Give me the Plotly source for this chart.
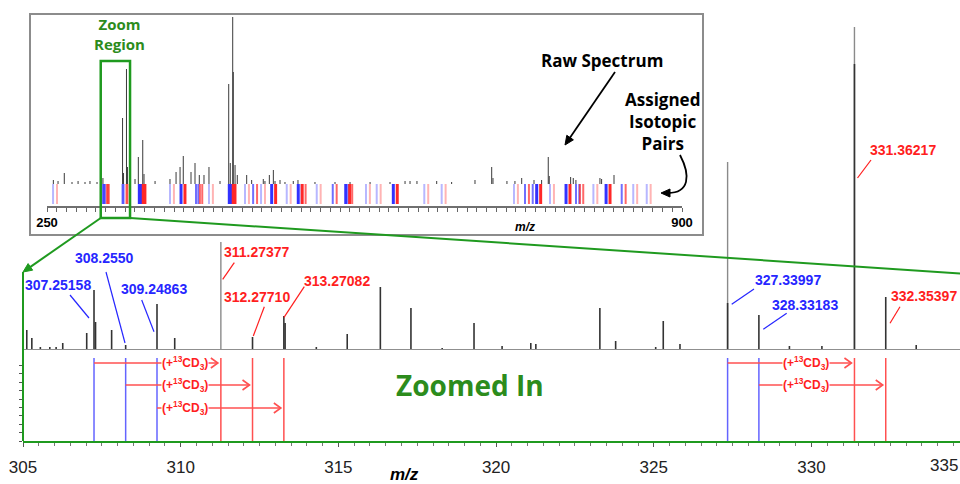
import math
import plotly.graph_objects as go

W, H = 960, 484

# ============================ DATA ============================
# Zoomed spectrum, m/z 305-335: peak centroids and relative intensities
main_mz = [305.12, 305.28, 305.55, 305.85, 306.05, 306.26, 307.02, 307.25158, 307.30,
           307.81, 308.2550, 309.24863, 309.81, 312.27710, 313.27082, 313.31, 314.30,
           315.28, 316.33, 317.30, 318.29, 319.30, 320.19, 321.10, 321.26, 323.29,
           323.79, 325.06, 325.30, 325.83, 327.33997, 328.33183, 329.30, 330.33,
           331.36217, 332.35397, 333.32]
main_int = [19, 11, 2, 2, 2, 6, 16, 59, 27,
            19, 4, 45, 11, 12, 33, 26, 2,
            15, 62, 41, 1, 26, 3, 6, 5, 41,
            8, 2, 28, 5, 46, 34, 3, 3,
            285, 52, 4]
# lighter overlay trace of the dominant ions
tall_mz = [311.27377, 327.33997, 331.36217]
tall_int = [107, 187, 322]

# assigned isotopic pairs (light / +13CD3 heavy)
light_mz = [307.25158, 308.2550, 309.24863, 327.33997, 328.33183]
heavy_mz = [311.27377, 312.27710, 313.27082, 331.36217, 332.35397]
light_labels = ["307.25158", "308.2550", "309.24863", "327.33997", "328.33183"]
heavy_labels = ["311.27377", "312.27710", "313.27082", "331.36217", "332.35397"]
pair_label = "(+<sup>13</sup>CD<sub>3</sub>)"
CD3_SHIFT = 4.0222

# Raw full spectrum (inset, m/z 250-900)
inset_mz = [256.5, 261.3, 267.7, 275.6, 281.8, 288.9, 294.0, 301.2, 305.12, 307.25,
            327.34, 328.33, 331.36, 332.35, 340.1, 343.5, 348.0, 349.3, 360.6, 375.9,
            382.1, 386.2, 389.5, 397.4, 401.5, 405.9, 410.7, 415.8, 427.1, 436.0,
            437.6, 440.1, 440.7, 442.5, 444.8, 454.4, 459.5, 471.4, 473.1, 477.6,
            481.7, 483.4, 488.5, 493.6, 502.1, 506.9, 524.3, 544.8, 560.2, 580.7,
            601.1, 616.5, 621.6, 628.7, 648.9, 664.2, 688.1, 705.2, 706.5, 720.8,
            729.0, 735.9, 748.5, 756.3, 763.1, 764.1, 786.0, 788.7, 791.4, 816.0,
            817.7, 830.4]
inset_int = [4, 3, 11, 2, 3, 2, 3, 2, 4, 6,
             66, 11, 115, 17, 5, 27, 44, 10, 3, 5,
             12, 17, 28, 12, 21, 9, 9, 17, 3, 100,
             21, 167, 112, 19, 9, 9, 4, 5, 3, 9,
             14, 3, 4, 2, 3, 4, 2, 2, 2, 2,
             2, 3, 3, 3, 3, 2, 4, 17, 6, 3,
             3, 6, 4, 4, 27, 8, 7, 6, 4, 6,
             5, 9]
# assigned pairs in the inset: light partner m/z and signal level (1 weak .. 3 strong)
inset_pair_mz = [256.2, 307.25, 308.26, 309.25, 327.34, 328.33, 344.5, 346.2, 375.9, 387.2,
                 402.5, 404.9, 415.8, 436.6, 438.4, 452.7, 461.0, 469.1, 480.0, 495.4,
                 507.2, 510.7, 526.1, 542.5, 555.8, 558.4, 576.5, 587.5, 604.5, 636.2,
                 654.0, 728.0, 739.3, 747.2, 751.3, 764.9, 781.3, 791.5, 794.9, 809.3,
                 822.3, 838.3, 850.1, 863.9]
inset_pair_level = [1, 2, 2, 2, 2, 2, 3, 3, 1, 3,
                    2, 2, 1, 3, 3, 1, 2, 1, 3, 1,
                    3, 2, 1, 2, 3, 2, 1, 1, 3, 1,
                    1, 1, 2, 2, 3, 1, 3, 2, 2, 1,
                    3, 2, 1, 1]

main_ticks = [305, 310, 315, 320, 325, 330, 335]
inset_ticks = [250, 900]

# ============================ STYLE / LAYOUT ============================
GREEN = "#1f9a1f"
GREEN_TXT = "#2c8c1c"
BLUE_TXT = "#2626ff"
RED_TXT = "#ff1e1e"
BLUE_LINE = "#6464ff"
RED_LINE = "#ff5050"
ARIAL = "Liberation Sans, Arial"
SANS = "Open Sans, Liberation Sans, Arial"


def PX(x):
    return x / W


def PY(y):
    return 1 - y / H


MAIN_L = 23.0          # pixel of m/z 305
PX_PER_MZ = 31.54
MAIN_RANGE = [305, 305 + (W - MAIN_L) / PX_PER_MZ]
UP_BASE = 349.0        # baseline of the spectrum (px)
LOW_BOT = 441.0        # bottom axis (px)
LOW_UNIT = 8.4         # px per lower-panel unit
LOW_RANGE = [0, (LOW_BOT - UP_BASE) / LOW_UNIT]
IN_L, IN_R = 47.0, 682.0
IN_RANGE = [250, 900]
IN_BASE = 184.0
IN_Y_RANGE = [-38, 170]


def main_px(mz):
    return MAIN_L + (mz - MAIN_RANGE[0]) * PX_PER_MZ


def inset_px(mz):
    return IN_L + (mz - IN_RANGE[0]) * (IN_R - IN_L) / (IN_RANGE[1] - IN_RANGE[0])


def stems(xs, y0s, y1s):
    X, Y = [], []
    for x, a, b in zip(xs, y0s, y1s):
        X += [x, x, None]
        Y += [a, b, None]
    return X, Y


def seg(p0, p1, color, width):
    return dict(type="line", xref="paper", yref="paper", x0=PX(p0[0]), y0=PY(p0[1]),
                x1=PX(p1[0]), y1=PY(p1[1]), line=dict(color=color, width=width))


def head(tip, tail, color, L=9.0, half=4.0):
    dx, dy = tip[0] - tail[0], tip[1] - tail[1]
    n = math.hypot(dx, dy)
    ux, uy = dx / n, dy / n
    bx, by = tip[0] - ux * L, tip[1] - uy * L
    p1 = (bx - uy * half, by + ux * half)
    p2 = (bx + uy * half, by - ux * half)
    path = (f"M {PX(tip[0])},{PY(tip[1])} L {PX(p1[0])},{PY(p1[1])} "
            f"L {PX(p2[0])},{PY(p2[1])} Z")
    return dict(type="path", xref="paper", yref="paper", path=path,
                fillcolor=color, line=dict(color=color, width=1))


def arrow(tail, tip, color, width):
    dx, dy = tip[0] - tail[0], tip[1] - tail[1]
    n = math.hypot(dx, dy)
    end = (tip[0] - dx / n * 6, tip[1] - dy / n * 6)
    return [seg(tail, end, color, width), head(tip, tail, color)]


fig = go.Figure()

# ---------- inset: raw spectrum ----------
X, Y = stems(inset_mz, [0] * len(inset_mz), inset_int)
fig.add_trace(go.Scatter(x=X, y=Y, mode="lines", xaxis="x2", yaxis="y2",
                         line=dict(color="#3a3a3a", width=1), hoverinfo="skip"))
alpha = {1: 0.35, 2: 0.7, 3: 1.0}
wid = {1: 2, 2: 2, 3: 3}
for lev in (1, 2, 3):
    lm = [m for m, l in zip(inset_pair_mz, inset_pair_level) if l == lev]
    hm = [m + CD3_SHIFT for m in lm]
    X, Y = stems(lm, [0] * len(lm), [-20] * len(lm))
    fig.add_trace(go.Scatter(x=X, y=Y, mode="lines", xaxis="x2", yaxis="y2",
                             line=dict(color=f"rgba(50,50,255,{alpha[lev]})", width=wid[lev]),
                             hoverinfo="skip"))
    X, Y = stems(hm, [0] * len(hm), [-20] * len(hm))
    fig.add_trace(go.Scatter(x=X, y=Y, mode="lines", xaxis="x2", yaxis="y2",
                             line=dict(color=f"rgba(255,40,40,{alpha[lev]})", width=wid[lev]),
                             hoverinfo="skip"))

# ---------- main spectrum ----------
X, Y = stems(tall_mz, [0] * len(tall_mz), tall_int)
fig.add_trace(go.Scatter(x=X, y=Y, mode="lines", xaxis="x4", yaxis="y3",
                         line=dict(color="#8a8a8a", width=1.4), hoverinfo="skip"))
X, Y = stems(main_mz, [0] * len(main_mz), main_int)
fig.add_trace(go.Scatter(x=X, y=Y, mode="lines", xaxis="x4", yaxis="y3",
                         line=dict(color="#333333", width=1.6), hoverinfo="skip"))

# ---------- lower panel: pair lines and arrows ----------
line_top = (LOW_BOT - 358) / LOW_UNIT
X, Y = stems(light_mz, [0] * 5, [line_top] * 5)
fig.add_trace(go.Scatter(x=X, y=Y, mode="lines", xaxis="x", yaxis="y",
                         line=dict(color=BLUE_LINE, width=1.5), hoverinfo="skip"))
X, Y = stems(heavy_mz, [0] * 5, [line_top] * 5)
fig.add_trace(go.Scatter(x=X, y=Y, mode="lines", xaxis="x", yaxis="y",
                         line=dict(color=RED_LINE, width=1.5), hoverinfo="skip"))

row_px = [363, 385, 408]
pair_row = [0, 1, 2, 0, 1]
pair_label_px = [185, 185, 185, 806, 806]
gap = 3.0 / PX_PER_MZ
head_dx = 7.0 / PX_PER_MZ
head_dy = 5.0 / LOW_UNIT
AX, AY = [], []
for lm, hm, r in zip(light_mz, heavy_mz, pair_row):
    yv = (LOW_BOT - row_px[r]) / LOW_UNIT
    tip = hm - gap
    AX += [lm, tip, None, tip - head_dx, tip, tip - head_dx, None]
    AY += [yv, yv, None, yv + head_dy, yv, yv - head_dy, None]
fig.add_trace(go.Scatter(x=AX, y=AY, mode="lines", xaxis="x", yaxis="y",
                         line=dict(color=RED_LINE, width=1.6), hoverinfo="skip"))

annotations = []
shapes = []
for lp, r in zip(pair_label_px, pair_row):
    annotations.append(dict(xref="paper", yref="paper", x=PX(lp), y=PY(row_px[r]),
                            xanchor="center", yanchor="middle",
                            text=pair_label, showarrow=False, bgcolor="white", borderpad=0,
                            font=dict(family=ARIAL, size=12, color=RED_TXT, weight="bold")))

# ---------- peak labels with leader lines ----------
peak_texts = light_labels + heavy_labels
peak_colors = [BLUE_TXT] * 5 + [RED_TXT] * 5
# (text centre, leader start, leader end) in pixels
label_layout = [
    ((58, 285), (70, 295), (89, 318)),
    ((104, 258), (106, 272), (125, 343)),
    ((153.5, 289), (141.7, 300), (154, 331.7)),
    ((787.7, 280), (754, 289), (731.7, 304.3)),
    ((805, 305), (786.7, 313.3), (763.3, 329.3)),
    ((257, 252), (234.3, 262.7), (222.7, 279.3)),
    ((256.7, 296.5), (264.3, 306.7), (253.3, 336)),
    ((336.7, 281), (304.3, 286.7), (284, 317.3)),
    ((903.3, 150), (871, 160), (857.5, 178)),
    ((959, 295.5), (900, 306.7), (890, 323.3)),
]
for i, (txt, col, (tc, st, en)) in enumerate(zip(peak_texts, peak_colors, label_layout)):
    anchor = "right" if i == 9 else "center"
    annotations.append(dict(xref="paper", yref="paper", x=PX(tc[0]), y=PY(tc[1]),
                            xanchor=anchor, yanchor="middle", text=txt, showarrow=False,
                            font=dict(family=ARIAL, size=14, color=col, weight="bold")))
    shapes.append(seg(st, en, col, 1.2))

# ---------- zoom connectors ----------
rect_l = inset_px(main_ticks[0])
rect_r = inset_px(main_ticks[-1])
rect_bot_px = IN_BASE + 34
shapes += [
    dict(type="rect", xref="paper", yref="paper", x0=PX(30), x1=PX(703), y0=PY(235), y1=PY(14),
         line=dict(color="#8c8c8c", width=2), fillcolor="rgba(0,0,0,0)", layer="below"),
    dict(type="rect", xref="x2", yref="y2", x0=305, x1=335, y0=IN_BASE - 218, y1=IN_BASE - 61,
         line=dict(color=GREEN, width=2.5)),
    seg((main_px(305), 272), (main_px(305), LOW_BOT), GREEN, 2),
    seg((rect_r, rect_bot_px), (main_px(335), 274), GREEN, 2),
    dict(type="path", xref="paper", yref="paper",
         path=f"M {PX(680)},{PY(155)} C {PX(691)},{PY(176)} {PX(689)},{PY(193)} {PX(668)},{PY(193)}",
         line=dict(color="black", width=1.8)),
    head((661, 193), (670, 193), "black"),
]
shapes += arrow((rect_l, rect_bot_px), (main_px(305), 272), GREEN, 2)
shapes += arrow((615, 72), (565, 145), "black", 1.8)

# ---------- text ----------
annotations += [
    dict(xref="paper", yref="paper", x=PX(119), y=PY(34), text="Zoom<br>Region", showarrow=False,
         font=dict(family=SANS, size=15, color=GREEN_TXT, weight="bold")),
    dict(xref="paper", yref="paper", x=PX(602), y=PY(60), text="Raw Spectrum", showarrow=False,
         font=dict(family=SANS, size=17, color="black", weight="bold")),
    dict(xref="paper", yref="paper", x=PX(662), y=PY(122), text="Assigned<br>Isotopic<br>Pairs",
         showarrow=False, font=dict(family=SANS, size=17, color="black", weight="bold")),
    dict(xref="paper", yref="paper", x=PX(525), y=PY(227), text="m/z", showarrow=False,
         font=dict(family=ARIAL, size=12, color="black", weight="bold", style="italic")),
    dict(xref="paper", yref="paper", x=PX(470), y=PY(385), text="Zoomed In", showarrow=False,
         font=dict(family=SANS, size=28, color=GREEN_TXT, weight="bold")),
    dict(xref="paper", yref="paper", x=PX(404), y=PY(474), text="m/z", showarrow=False,
         font=dict(family=ARIAL, size=17, color="black", weight="bold", style="italic")),
]
for a in annotations:
    a.setdefault("xanchor", "center")
    a.setdefault("yanchor", "middle")
# tick labels beyond the visible range are pinned to the right edge
for t in main_ticks:
    if t > MAIN_RANGE[1]:
        annotations.append(dict(xref="paper", yref="paper", x=1, xanchor="right", y=PY(465),
                                yanchor="middle", text=str(t), showarrow=False,
                                font=dict(family=ARIAL, size=17, color="#222")))

vis_ticks = [t for t in main_ticks if t <= MAIN_RANGE[1]]

fig.update_layout(
    width=W, height=H, margin=dict(l=0, r=0, t=0, b=0), autosize=False,
    showlegend=False, paper_bgcolor="white", plot_bgcolor="rgba(0,0,0,0)",
    xaxis=dict(domain=[PX(MAIN_L), 1], range=MAIN_RANGE, anchor="y", showline=True,
               linecolor=GREEN, linewidth=2, ticks="outside", ticklen=4, tickcolor="#555",
               tickvals=vis_ticks, ticktext=[str(t) for t in vis_ticks],
               tickfont=dict(family=ARIAL, size=17, color="#222"),
               minor=dict(dtick=0.5, ticks="outside", ticklen=3, tickcolor="#777"),
               showgrid=False, zeroline=False, automargin=False, ticklabelstandoff=6),
    yaxis=dict(domain=[PY(LOW_BOT), PY(UP_BASE)], range=LOW_RANGE, anchor="x",
               tickvals=list(range(0, 10)), ticks="outside", ticklen=3, tickcolor="#555",
               showticklabels=False, showline=False, showgrid=False, zeroline=False,
               automargin=False),
    xaxis4=dict(domain=[PX(MAIN_L), 1], matches="x", anchor="y3", showline=True,
                linecolor="#8f8f8f", linewidth=1, ticks="", showticklabels=False,
                showgrid=False, zeroline=False, automargin=False),
    yaxis3=dict(domain=[PY(UP_BASE), 1], range=[0, UP_BASE], anchor="x4", visible=False),
    xaxis2=dict(domain=[PX(IN_L), PX(IN_R)], range=IN_RANGE, anchor="free", position=PY(207),
                showline=True, linecolor="#707070", linewidth=1.5, ticks="outside", ticklen=4,
                tickcolor="#666", tickvals=inset_ticks, ticktext=[str(t) for t in inset_ticks],
                minor=dict(tick0=IN_RANGE[0], dtick=10, ticks="outside", ticklen=4,
                           tickcolor="#666"),
                tickfont=dict(family=ARIAL, size=13, color="black", weight="bold"),
                showgrid=False, zeroline=False, automargin=False),
    yaxis2=dict(domain=[PY(IN_BASE - IN_Y_RANGE[0]), PY(IN_BASE - IN_Y_RANGE[1])],
                range=IN_Y_RANGE, anchor="x2", visible=False),
    annotations=annotations,
    shapes=shapes,
)

fig.write_html("out.html", config={"displayModeBar": False},
               post_script="document.body.style.margin='0px';document.body.style.overflow='hidden';")
